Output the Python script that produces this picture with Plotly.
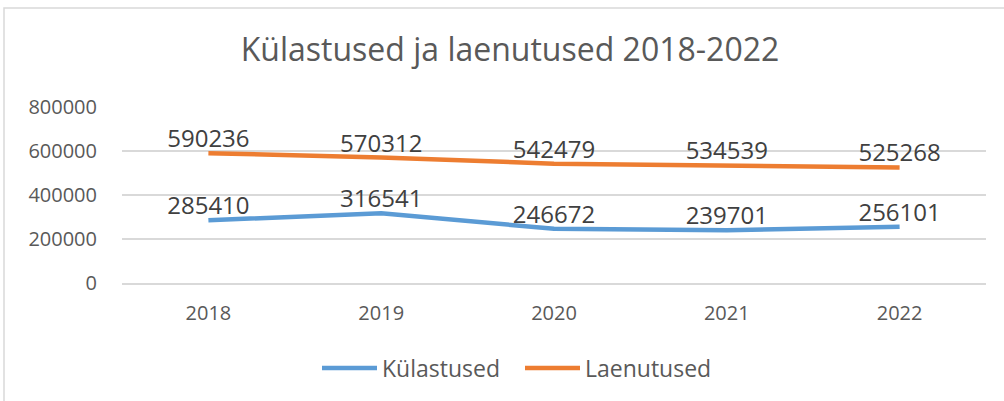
import plotly.graph_objects as go

years = ["2018", "2019", "2020", "2021", "2022"]
kulastused = [285410, 316541, 246672, 239701, 256101]
laenutused = [590236, 570312, 542479, 534539, 525268]
y_ticks = [0, 200000, 400000, 600000, 800000]

W, H = 1004, 401
L, R, T, B = 122, 18, 107, 118
pw, ph = W - L - R, H - T - B

FONT = "Open Sans"

fig = go.Figure()

fig.add_trace(go.Scatter(
    x=years, y=kulastused, name="Külastused",
    mode="lines+text", text=[str(v) for v in kulastused],
    textposition="top center",
    textfont=dict(size=24, color="#404040", family=FONT),
    line=dict(color="#5B9BD5", width=4.5),
))
fig.add_trace(go.Scatter(
    x=years, y=laenutused, name="Laenutused",
    mode="lines+text", text=[str(v) for v in laenutused],
    textposition="top center",
    textfont=dict(size=24, color="#404040", family=FONT),
    line=dict(color="#ED7D31", width=4.5),
))

# outer chart border
fig.add_shape(
    type="rect", xref="paper", yref="paper",
    x0=(4 - L) / pw, x1=(W + 5 - L) / pw,
    y0=-(H + 5 - T - ph) / ph, y1=(T - 8 + ph) / ph,
    line=dict(color="#D9D9D9", width=1.5),
)

fig.update_layout(
    width=W, height=H,
    margin=dict(l=L, r=R, t=T, b=B),
    paper_bgcolor="white", plot_bgcolor="white",
    font=dict(family=FONT, color="#595959"),
    title=dict(text="Külastused ja laenutused 2018-2022",
               x=510 / W, xanchor="center", y=1 - 50 / H, yanchor="middle",
               font=dict(size=32, color="#595959", family=FONT)),
    xaxis=dict(type="category", range=[-0.5, 4.5],
               showgrid=False, showline=True, linecolor="#D9D9D9", linewidth=1.5,
               tickfont=dict(size=20, color="#595959"),
               ticks="outside", ticklen=11, tickcolor="white"),
    yaxis=dict(range=[0, 800000], tickvals=y_ticks,
               ticktext=[str(v) for v in y_ticks],
               gridcolor="#D9D9D9", gridwidth=1.5, zeroline=False,
               tickfont=dict(size=20, color="#595959"), ticklen=20,
               ticks="outside", tickcolor="white"),
    showlegend=True,
    legend=dict(orientation="h", x=(520 - L) / pw, xanchor="center",
                y=-(368 - T - ph) / ph, yanchor="middle",
                font=dict(size=23, color="#595959"),
                itemwidth=55, entrywidth=133),
)

fig.write_html("out.html", config={"displayModeBar": False},
               post_script="document.body.style.margin='0';")
